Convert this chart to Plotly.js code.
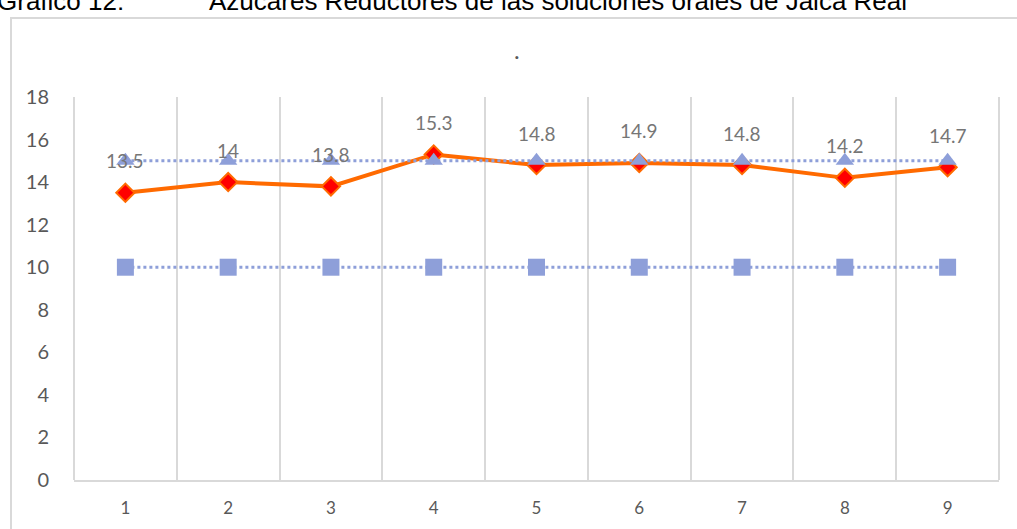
<!DOCTYPE html>
<html>
<head>
<meta charset="utf-8">
<script src="https://cdn.plot.ly/plotly-3.0.1.min.js"></script>
<style>html,body{margin:0;padding:0;background:#fff;}#chart{width:1017px;height:529px;}</style>
</head>
<body>
<div id="chart"></div>
<script>
const categories = [1, 2, 3, 4, 5, 6, 7, 8, 9];
const categoryLabels = ["1", "2", "3", "4", "5", "6", "7", "8", "9"];
const azucares = [13.5, 14, 13.8, 15.3, 14.8, 14.9, 14.8, 14.2, 14.7];
const limiteSuperior = [15, 15, 15, 15, 15, 15, 15, 15, 15];
const limiteInferior = [10, 10, 10, 10, 10, 10, 10, 10, 10];
const yTicks = [0, 2, 4, 6, 8, 10, 12, 14, 16, 18];

const L = 74, R = 999, T = 97, B = 480;
const px = x => (x - L) / (R - L);
const py = y => (B - y) / (B - T);

const blue = '#8e9fd9';
const traces = [
  {
    x: categories, y: limiteInferior, type: 'scatter', mode: 'lines+markers',
    line: {color: blue, width: 3, dash: 'dot'},
    marker: {symbol: 'square', size: 17, color: blue},
    hoverinfo: 'skip', showlegend: false
  },
  {
    x: categories, y: azucares, type: 'scatter', mode: 'lines+markers',
    line: {color: '#ff6a00', width: 4},
    marker: {symbol: 'diamond', size: 14, color: '#ff0000', line: {color: '#ff6a00', width: 2}},
    hoverinfo: 'skip', showlegend: false
  },
  {
    x: categories, y: limiteSuperior, type: 'scatter', mode: 'lines+markers',
    line: {color: blue, width: 3, dash: 'dot'},
    marker: {symbol: 'triangle-up', size: 16, color: blue},
    hoverinfo: 'skip', showlegend: false
  }
];

const annotations = azucares.map((v, i) => ({
  x: categories[i], y: v, xref: 'x', yref: 'y', text: String(v),
  showarrow: false, yshift: 32,
  font: {family: 'Lato, sans-serif', size: 19, color: '#767676'}
}));
annotations.push({
  x: px(517), y: py(33), xref: 'paper', yref: 'paper', text: '.',
  showarrow: false, font: {family: 'Lato, sans-serif', size: 24, color: '#595959'}
});
annotations.push({
  x: px(-5), y: py(1), xref: 'paper', yref: 'paper', xanchor: 'left', yanchor: 'middle',
  text: 'Gráfico 12:', showarrow: false,
  font: {family: 'Liberation Sans, Arial, sans-serif', size: 26, color: '#000'}
});
annotations.push({
  x: px(207), y: py(1), xref: 'paper', yref: 'paper', xanchor: 'left', yanchor: 'middle',
  text: 'Azúcares Reductores de las soluciones orales de Jalca Real', showarrow: false,
  font: {family: 'Liberation Sans, Arial, sans-serif', size: 26, color: '#000'}
});

const layout = {
  width: 1017, height: 529,
  margin: {l: L, r: 1017 - R, t: T, b: 529 - B, pad: 0},
  paper_bgcolor: '#fff', plot_bgcolor: '#fff',
  xaxis: {
    range: [0.5, 9.5], tickvals: categories, ticktext: categoryLabels,
    showgrid: false, zeroline: false,
    showline: true, linecolor: '#d9d9d9', linewidth: 2,
    ticks: 'outside', ticklen: 12, tickcolor: 'rgba(0,0,0,0)',
    tickfont: {family: 'Lato, sans-serif', size: 17, color: '#595959'},
    minor: {tick0: 0.5, dtick: 1, showgrid: true, gridcolor: '#d9d9d9', gridwidth: 2, ticks: ''},
    fixedrange: true
  },
  yaxis: {
    range: [0, 18], tickvals: yTicks, ticktext: yTicks.map(String),
    showgrid: false, zeroline: false, showline: false,
    ticks: 'outside', ticklen: 20, tickcolor: 'rgba(0,0,0,0)',
    tickfont: {family: 'Lato, sans-serif', size: 20, color: '#595959'},
    fixedrange: true
  },
  shapes: [
    {type: 'line', xref: 'paper', yref: 'paper', x0: 0, x1: 0, y0: 0, y1: 1, line: {color: '#d9d9d9', width: 2}},
    {type: 'line', xref: 'paper', yref: 'paper', x0: 1, x1: 1, y0: 0, y1: 1, line: {color: '#d9d9d9', width: 2}},
    {type: 'rect', xref: 'paper', yref: 'paper', x0: px(11), x1: px(1030), y0: py(545), y1: py(18),
     line: {color: '#d9d9d9', width: 2}, fillcolor: 'rgba(0,0,0,0)', layer: 'below'}
  ],
  annotations: annotations,
  showlegend: false
};

Plotly.newPlot('chart', traces, layout, {displayModeBar: false, staticPlot: true});
</script>
</body>
</html>
